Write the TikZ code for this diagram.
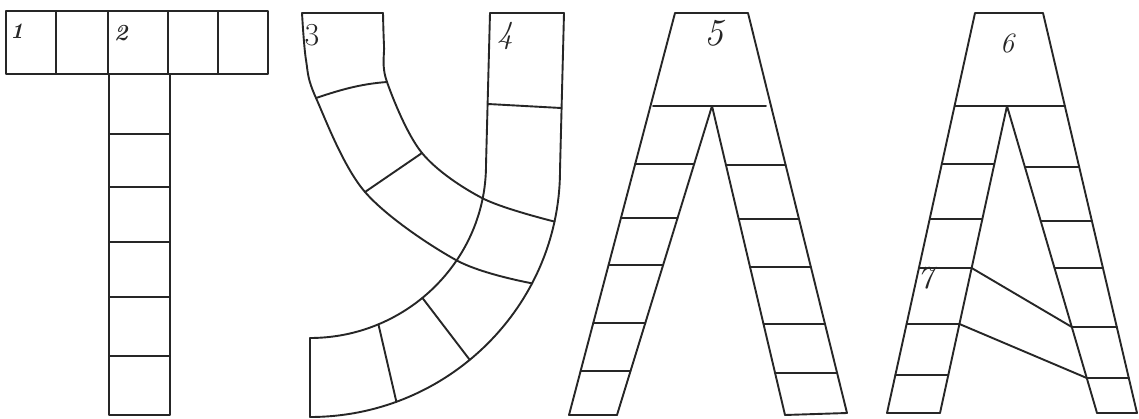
\documentclass[tikz,border=0pt]{standalone}
\usetikzlibrary{calc}
\begin{document}
\begin{tikzpicture}[x=1pt,y=-1pt,
  ln/.style={line width=1.9pt, draw=black!85, line join=round, line cap=round},
  num/.style={inner sep=0pt, text=black!85}]
\useasboundingbox[fill=white] (0,0) rectangle (1139,419);

% ---------- T ----------
\draw[ln] (6,11) rectangle (268,74);
\foreach \x in {56,108,168,218} \draw[ln] (\x,11) -- (\x,74);
\draw[ln] (109,74) -- (109,415) -- (170,415) -- (170,74);
\foreach \y in {134,187,242,297,356} \draw[ln] (109,\y) -- (170,\y);
\node[num, font=\fontsize{22}{22}\selectfont\itshape\bfseries] (n1) at (17,31) {1};
\node[num, font=\fontsize{23}{23}\selectfont\itshape\bfseries] (n2) at (121,33) {2};

% ---------- U ----------
\coordinate (uo1) at (564,13); \coordinate (uo2) at (560,170); \coordinate (uo3) at (310,417);
\coordinate (ui1) at (490,13); \coordinate (ui2) at (486,165); \coordinate (ui3) at (310,338);
\draw[ln] (uo1) -- (uo2) .. controls (560,306) and (448,417) .. (uo3)
  coordinate[pos=0.13] (oa) coordinate[pos=0.30] (ob)
  coordinate[pos=0.56] (oc) coordinate[pos=0.78] (od);
\draw[ln] (ui1) -- (ui2) .. controls (486,260) and (407,338) .. (ui3)
  coordinate[pos=0.12] (ia) coordinate[pos=0.37] (ib)
  coordinate[pos=0.56] (ic) coordinate[pos=0.75] (id);
\draw[ln] (ui3) -- (uo3);
\draw[ln] (ui1) -- (uo1);
\draw[ln] (302,13) -- (383,13);
\coordinate (la1) at (316,98); \coordinate (la2) at (387,82);
\coordinate (lb1) at (365,192); \coordinate (lb2) at (422,153);
\draw[ln] plot[smooth, tension=0.55] coordinates {(302,13) (306,60) (la1) (lb1) (ib) (ob)};
\draw[ln] plot[smooth, tension=0.55] coordinates {(383,13) (384,45) (la2) (lb2) (ia) (oa)};
\draw[ln] (la1) .. controls (340,90) and (360,84) .. (la2);
\draw[ln] (lb1) -- (lb2);
\draw[ln] (488,104) -- (561,108);
\draw[ln] (ic) -- (oc);
\draw[ln] (id) -- (od);
\node[num, font=\fontsize{32}{32}\selectfont] (n3) at (312,35) {3};
\node[num, font=\fontsize{32}{32}\selectfont\itshape] (n4) at (505,36) {4};

% ---------- L ----------
\coordinate (lo1) at (675,13); \coordinate (lo2) at (569,415);
\coordinate (li1) at (712,106); \coordinate (li2) at (617,415);
\coordinate (ri2) at (785,415);
\coordinate (ro1) at (748,13); \coordinate (ro2) at (847,413);
\draw[ln] (lo2) -- (lo1) -- (ro1) -- (ro2);
\draw[ln] (653,106) -- (766,106);
\draw[ln] (li2) -- (li1) -- (ri2);
\draw[ln] (lo2) -- (li2);
\draw[ln] (ri2) -- (ro2);
\foreach \y in {164,218,265,323,371}
  \draw[ln] (intersection cs:first line={(lo1)--(lo2)}, second line={(0,\y)--(10,\y)})
         -- (intersection cs:first line={(li1)--(li2)}, second line={(0,\y)--(10,\y)});
\foreach \y in {165,219,267,324,373}
  \draw[ln] (intersection cs:first line={(li1)--(ri2)}, second line={(0,\y)--(10,\y)})
         -- (intersection cs:first line={(ro1)--(ro2)}, second line={(0,\y)--(10,\y)});
\node[num, font=\fontsize{38}{38}\selectfont\itshape] (n5) at (714,33) {5};

% ---------- A ----------
\coordinate (ao1) at (975,13); \coordinate (ao2) at (887,413);
\coordinate (ai1) at (1007,106); \coordinate (ai2) at (940,413);
\coordinate (bi2) at (1097,413);
\coordinate (bo1) at (1043,13); \coordinate (bo2) at (1137,413);
\draw[ln] (ao2) -- (ao1) -- (bo1) -- (bo2);
\draw[ln] (955,106) -- (1065,106);
\draw[ln] (ai2) -- (ai1) -- (bi2);
\draw[ln] (ao2) -- (ai2);
\draw[ln] (bi2) -- (bo2);
\foreach \y in {164,219,268,324,375}
  \draw[ln] (intersection cs:first line={(ao1)--(ao2)}, second line={(0,\y)--(10,\y)})
         -- (intersection cs:first line={(ai1)--(ai2)}, second line={(0,\y)--(10,\y)});
\foreach \y in {167,221,268,327,378}
  \draw[ln] (intersection cs:first line={(ai1)--(bi2)}, second line={(0,\y)--(10,\y)})
         -- (intersection cs:first line={(bo1)--(bo2)}, second line={(0,\y)--(10,\y)});
\draw[ln] (intersection cs:first line={(ai1)--(ai2)}, second line={(0,268)--(10,268)})
       -- (intersection cs:first line={(ai1)--(bi2)}, second line={(0,327)--(10,327)});
\draw[ln] (intersection cs:first line={(ai1)--(ai2)}, second line={(0,324)--(10,324)})
       -- (intersection cs:first line={(ai1)--(bi2)}, second line={(0,378)--(10,378)});
\node[num, font=\fontsize{28}{28}\selectfont\itshape] (n6) at (1007,43) {6};
\node[num, font=\fontsize{32}{32}\selectfont\itshape] (n7) at (925,278) {7};
\end{tikzpicture}
\end{document}
